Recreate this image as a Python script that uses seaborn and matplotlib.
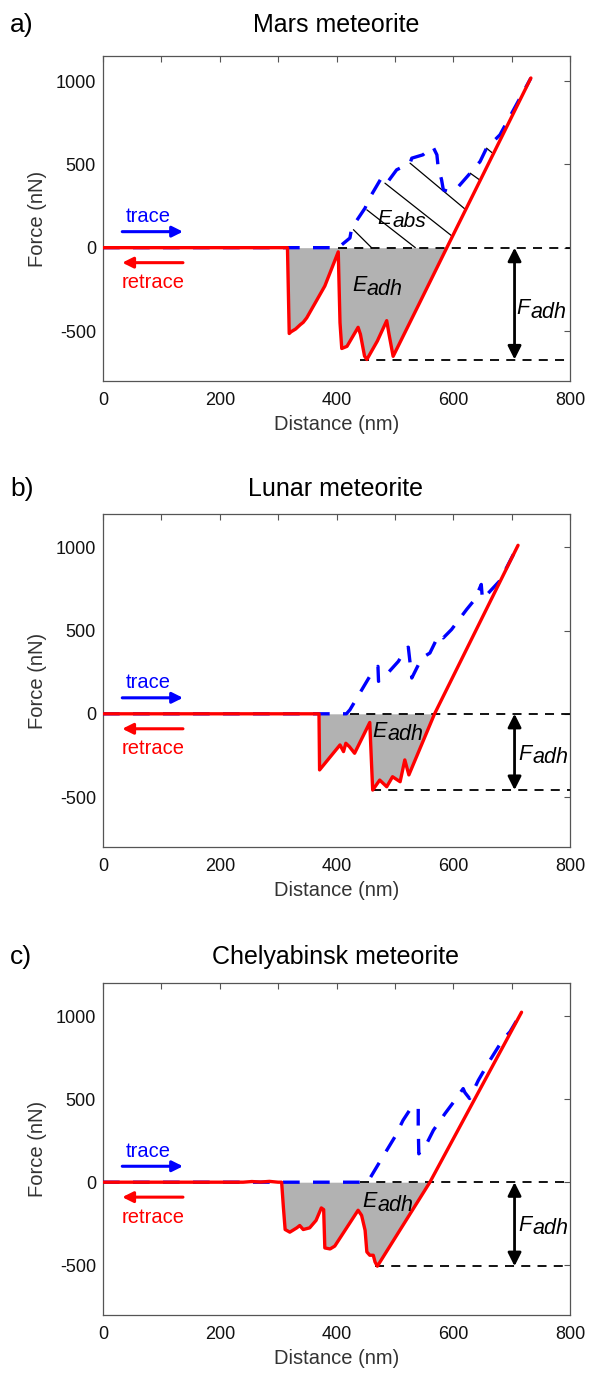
import numpy as np
import pandas as pd
import matplotlib
matplotlib.use("Agg")
import matplotlib.pyplot as plt
import seaborn as sns

sns.set_theme(style="white")
plt.rcParams['font.family'] = ['Liberation Sans', 'DejaVu Sans']
plt.rcParams['axes.unicode_minus'] = False

# ---------------- data ----------------
titles = ["Mars meteorite", "Lunar meteorite", "Chelyabinsk meteorite"]
panel_tags = ["a)", "b)", "c)"]

# Panel a (Mars)
xa_red = [0, 316, 319, 322, 330, 338, 343, 349, 380, 403, 406, 409, 418, 430, 437, 441, 448, 452, 470, 486, 490, 497, 540, 589, 650, 733]
Fa_red = [0, 0, -515, -505, -488, -462, -448, -421, -230, -25, -450, -605, -592, -520, -478, -520, -650, -671, -560, -438, -520, -652, -348, 0, 431, 1018]
xa_blue = [0, 403, 423, 426, 449, 455, 475, 480, 487, 503, 526, 529, 548, 565, 572, 574, 580, 583, 592, 603, 609, 629, 646, 657, 680, 733]
Fa_blue = [0, 0, 58, 118, 238, 288, 407, 423, 391, 467, 507, 537, 557, 607, 557, 487, 407, 347, 337, 357, 367, 447, 517, 597, 677, 1018]
hatch_x0 = [429, 452, 483, 526, 629, 657]
hatch_y0 = [108, 227, 387, 507, 447, 597]
hatch_x1 = [460, 535, 597, 620, 645, 666]
hatch_y1 = [0, 0, 72, 232, 407, 571]

# Panel b (Lunar)
xb_red = [0, 370, 371, 406, 412, 416, 422, 431, 457, 460, 462, 474, 486, 496, 509, 517, 524, 568, 711]
Fb_red = [0, 0, -337, -187, -227, -177, -197, -237, -52, -300, -458, -398, -438, -378, -408, -277, -367, 0, 1012]
xb_blue = [0, 417, 423, 457, 471, 472, 488, 506, 520, 523, 529, 546, 560, 574, 578, 583, 597, 623, 637, 648, 650, 680, 711]
Fb_blue = [0, 0, 24, 225, 285, 195, 245, 315, 396, 400, 215, 335, 365, 466, 476, 456, 506, 627, 687, 777, 687, 800, 1012]

# Panel c (Chelyabinsk)
xc_red = [0, 240, 255, 270, 285, 300, 306, 309, 312, 320, 332, 337, 343, 354, 365, 374, 378, 380, 389, 397, 437, 443, 449, 452, 457, 463, 466, 470, 560, 717]
Fc_red = [0, 0, 4, 1, 5, 0, 0, -150, -285, -301, -275, -261, -285, -275, -230, -155, -165, -396, -402, -385, -169, -200, -290, -420, -440, -440, -480, -506, 0, 1024]
xc_blue = [0, 451, 457, 474, 500, 514, 529, 540, 540, 541, 554, 566, 586, 603, 617, 620, 628, 643, 663, 686, 697, 717]
Fc_blue = [0, 0, 22, 122, 273, 373, 454, 454, 337, 171, 229, 313, 414, 494, 564, 540, 504, 614, 735, 865, 905, 1024]

# adhesion force levels, dashed-line starts, label anchors
F_adh = [-671, -458, -506]
zero_start = [403, 423, 440]
low_start = [440, 460, 466]
eadh_pos = [(451, -262), (486, -137), (469, -150)]
fadh_pos = [(731, -401), (734, -277), (734, -293)]
eabs_pos = (494, 142)

x_ticks = [0, 100, 200, 300, 400, 500, 600, 700, 800]
x_ticklabels = ["0", "", "200", "", "400", "", "600", "", "800"]
y_ticks = [-500, 0, 500, 1000]
y_top = [1150, 1200, 1200]

# ---------------- figure ----------------
W, H = 590, 1374
fig = plt.figure(figsize=(W / 100, H / 100), dpi=100)

def px_axes(left, top, right, bottom):
    return fig.add_axes([left / W, 1 - bottom / H, (right - left) / W, (bottom - top) / H])

boxes = [(103, 56, 570, 381), (103, 514, 570, 847), (103, 983, 570, 1315)]
title_y = [25, 489, 957]

reds = [(xa_red, Fa_red), (xb_red, Fb_red), (xc_red, Fc_red)]
blues = [(xa_blue, Fa_blue), (xb_blue, Fb_blue), (xc_blue, Fc_blue)]

RED = "#ff0000"
BLUE = "#0000ff"
SPINE = "#555555"

def sub_label(ax, x, y, main, sub, size):
    ax.text(x, y, main, ha="right", va="baseline", fontsize=size, style="italic", color="black", zorder=6)
    ax.annotate(sub, xy=(x, y), xytext=(0.5, -2.5), textcoords="offset points",
                ha="left", va="baseline", fontsize=size, style="italic", color="black", zorder=6)

for i in range(3):
    ax = px_axes(*boxes[i])
    xr, yr = reds[i]
    xb, yb = blues[i]
    red_df = pd.DataFrame({"Distance": xr, "Force": yr})
    blue_df = pd.DataFrame({"Distance": xb, "Force": yb})

    # gray adhesion area
    ax.fill_between(red_df["Distance"], np.minimum(red_df["Force"], 0), 0,
                    color="#b2b2b2", lw=0, zorder=1)

    # dashed reference lines
    ax.plot([zero_start[i], 800], [0, 0], color="black", lw=1.3, ls=(0, (5, 4)), zorder=2)
    ax.plot([low_start[i], 800], [F_adh[i], F_adh[i]], color="black", lw=1.3, ls=(0, (5, 4)), zorder=2)

    if i == 0:
        for x0, y0, x1, y1 in zip(hatch_x0, hatch_y0, hatch_x1, hatch_y1):
            ax.plot([x0, x1], [y0, y1], color="black", lw=0.9, zorder=2)

    sns.lineplot(data=blue_df, x="Distance", y="Force", sort=False, estimator=None,
                 color=BLUE, lw=2.4, linestyle=(0, (5, 4)), ax=ax, zorder=3)
    sns.lineplot(data=red_df, x="Distance", y="Force", sort=False, estimator=None,
                 color=RED, lw=2.4, ax=ax, zorder=4)

    # F_adh double arrow
    ax.annotate("", xy=(705, F_adh[i]), xytext=(705, 0),
                arrowprops=dict(arrowstyle="<|-|>", color="black", lw=2,
                                mutation_scale=20, shrinkA=0, shrinkB=0), zorder=5)

    # trace / retrace arrows
    ax.annotate("", xy=(137, 96), xytext=(33, 96),
                arrowprops=dict(arrowstyle="-|>", color=BLUE, lw=2.2,
                                mutation_scale=16, shrinkA=0, shrinkB=0))
    ax.annotate("", xy=(33, -90), xytext=(137, -90),
                arrowprops=dict(arrowstyle="-|>", color=RED, lw=2.2,
                                mutation_scale=16, shrinkA=0, shrinkB=0))
    ax.text(77, 186, "trace", color=BLUE, fontsize=14.5, ha="center", va="center")
    ax.text(86, -210, "retrace", color=RED, fontsize=14.5, ha="center", va="center")

    sub_label(ax, eadh_pos[i][0], eadh_pos[i][1], "E", "adh", 15.5)
    sub_label(ax, fadh_pos[i][0], fadh_pos[i][1], "F", "adh", 15.5)
    if i == 0:
        sub_label(ax, eabs_pos[0], eabs_pos[1], "E", "abs", 15)

    ax.set_xlim(0, 800)
    ax.set_ylim(-800, y_top[i])
    ax.set_xticks(x_ticks)
    ax.set_xticklabels(x_ticklabels)
    ax.set_yticks(y_ticks)
    ax.tick_params(direction="in", top=True, right=True, length=4, width=0.8,
                   color=SPINE, labelsize=13, labelcolor="#111111", pad=5)
    ax.tick_params(axis="x", pad=8)
    for s in ax.spines.values():
        s.set_visible(True)
        s.set_color(SPINE)
        s.set_linewidth(0.9)
    ax.set_xlabel("Distance (nm)", fontsize=14.5, color="#333333", labelpad=4)
    ax.set_ylabel("Force (nN)", fontsize=14.5, color="#333333", labelpad=6)
    ax.grid(False)

    fig.text(336 / W, 1 - title_y[i] / H, titles[i], fontsize=18, ha="center", va="center", color="black")
    fig.text(10 / W, 1 - title_y[i] / H, panel_tags[i], fontsize=19, ha="left", va="center", color="black")

fig.savefig("out.png", dpi=100, facecolor="white")
